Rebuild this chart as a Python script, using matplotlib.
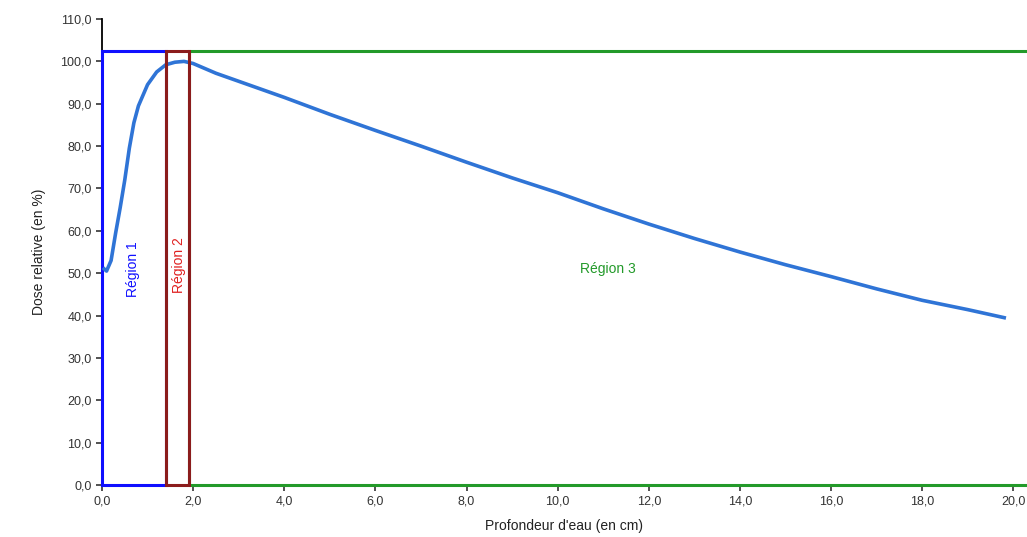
import matplotlib.pyplot as plt
from matplotlib.patches import Rectangle
from matplotlib.ticker import FuncFormatter

plt.rcParams['font.family'] = ['Liberation Sans', 'DejaVu Sans']

# profondeur (cm) et dose relative (%)
profondeur = [0.05, 0.1, 0.2, 0.3, 0.4, 0.5, 0.6, 0.7, 0.8, 1.0, 1.2, 1.4, 1.6, 1.8,
              2.0, 2.5, 3.0, 4.0, 5.0, 6.0, 7.0, 8.0, 9.0, 10.0, 11.0, 12.0, 13.0,
              14.0, 15.0, 16.0, 17.0, 18.0, 19.0, 19.8]
dose = [51.0, 50.5, 53.0, 59.5, 65.5, 72.0, 79.5, 85.5, 89.5, 94.5, 97.5, 99.2, 99.8, 100.0,
        99.5, 97.2, 95.3, 91.5, 87.5, 83.7, 80.0, 76.2, 72.5, 69.0, 65.2, 61.6, 58.2,
        55.0, 52.0, 49.2, 46.3, 43.6, 41.4, 39.5]

# limites des régions (cm) - la région 3 dépasse le bord de l'image
regions = ["Région 1", "Région 2", "Région 3"]
bornes = [0.0, 1.4, 1.9, 20.8]
couleurs = ["#1010ff", "#8b1c1c", "#239a2a"]
couleurs_texte = ["#1010ff", "#e02020", "#239a2a"]
haut_region = 102.4

fig = plt.figure(figsize=(10.27, 5.37), dpi=100)
ax = fig.add_axes([0.0993, 0.0968, 0.9007, 0.8678])

ordre = [3, 5, 3]
for i in range(3):
    r = Rectangle((bornes[i], 0), bornes[i + 1] - bornes[i], haut_region,
                  fill=False, edgecolor=couleurs[i], linewidth=2.2, clip_on=False,
                  zorder=ordre[i])
    ax.add_patch(r)

ax.plot(profondeur, dose, color="#2f74d6", linewidth=2.6, zorder=4)

ax.text(0.68, 51, regions[0], rotation=90, color=couleurs_texte[0], fontsize=10,
        ha="center", va="center")
ax.text(1.7, 52, regions[1], rotation=90, color=couleurs_texte[1], fontsize=10,
        ha="center", va="center")
ax.text(11.1, 51, regions[2], color=couleurs_texte[2], fontsize=10,
        ha="center", va="center")

ax.set_xlim(0, 20.3)
ax.set_ylim(0, 110)
ax.set_xticks(range(0, 21, 2))
ax.set_yticks(range(0, 111, 10))
fmt = FuncFormatter(lambda v, p: f"{v:.1f}".replace(".", ","))
ax.xaxis.set_major_formatter(fmt)
ax.yaxis.set_major_formatter(fmt)
ax.tick_params(labelsize=9, colors="#333333", length=4, width=1.2)
ax.spines['top'].set_visible(False)
ax.spines['right'].set_visible(False)
ax.spines['left'].set_linewidth(1.3)
ax.spines['bottom'].set_linewidth(1.3)

ax.set_xlabel("Profondeur d'eau (en cm)", fontsize=10, color="#222222", labelpad=8)
ax.set_ylabel("Dose relative (en %)", fontsize=10, color="#222222", labelpad=10)

fig.savefig("out.png", dpi=100)
